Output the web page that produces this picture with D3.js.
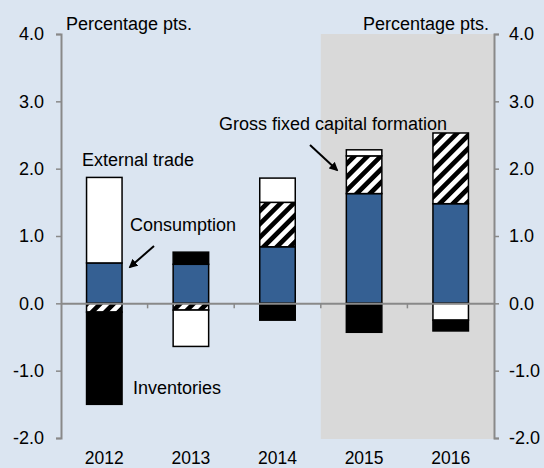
<!DOCTYPE html>
<html>
<head>
<meta charset="utf-8">
<script src="https://cdn.jsdelivr.net/npm/d3@7"></script>
<style>
  body { margin: 0; background: #dbe5f1; }
  text { font-family: "Liberation Sans", Arial, sans-serif; font-size: 18px; fill: #000; }
</style>
</head>
<body>
<div id="chart"></div>
<script>
// contributions to growth, percentage points
const years = ['2012', '2013', '2014', '2015', '2016'];
const consumption = [0.60, 0.58, 0.84, 1.63, 1.48];
const gfcf = [-0.13, -0.10, 0.66, 0.56, 1.05];
const externalTrade = [1.27, -0.54, 0.36, 0.09, -0.25];
const inventories = [-1.37, 0.18, -0.25, -0.43, -0.16];
const yTicks = [-2, -1, 0, 1, 2, 3, 4];
const shadedYears = ['2015', '2016'];

const width = 544;
const height = 468;
const margin = { top: 34, right: 50, bottom: 30, left: 61 };
const innerW = width - margin.left - margin.right;
const innerH = height - margin.top - margin.bottom;

const svg = d3.select('#chart').append('svg')
  .attr('width', width)
  .attr('height', height);

// hatch for fixed capital formation
const defs = svg.append('defs');
const hatch = defs.append('pattern')
  .attr('id', 'hatch')
  .attr('patternUnits', 'userSpaceOnUse')
  .attr('width', 9.4)
  .attr('height', 9.4)
  .attr('patternTransform', 'rotate(45)');
hatch.append('rect').attr('width', 9.4).attr('height', 9.4).attr('fill', '#fff');
hatch.append('rect').attr('width', 4.7).attr('height', 9.4).attr('fill', '#000');

const g = svg.append('g')
  .attr('transform', 'translate(' + margin.left + ',' + margin.top + ')');

const x = d3.scaleBand()
  .domain(years)
  .range([0, innerW])
  .padding(0);

const y = d3.scaleLinear()
  .domain([-2, 4])
  .range([innerH, 0]);

// shaded forecast period
g.append('rect')
  .attr('x', x(shadedYears[0]))
  .attr('y', 0)
  .attr('width', x(shadedYears[shadedYears.length - 1]) + x.bandwidth() - x(shadedYears[0]))
  .attr('height', innerH + 1)
  .attr('fill', '#d9d9d9');

const table = years.map((yr, i) => ({
  year: yr,
  consumption: consumption[i],
  gfcf: gfcf[i],
  externalTrade: externalTrade[i],
  inventories: inventories[i]
}));

const keys = ['consumption', 'gfcf', 'externalTrade', 'inventories'];
const fills = {
  consumption: '#356093',
  gfcf: 'url(#hatch)',
  externalTrade: '#ffffff',
  inventories: '#000000'
};

const series = d3.stack()
  .keys(keys)
  .offset(d3.stackOffsetDiverging)(table);

const barW = x.bandwidth() * 0.41;

g.selectAll('.series')
  .data(series)
  .join('g')
  .attr('class', 'series')
  .attr('fill', d => fills[d.key])
  .selectAll('rect')
  .data(d => d)
  .join('rect')
  .attr('x', d => x(d.data.year) + (x.bandwidth() - barW) / 2)
  .attr('y', d => y(Math.max(d[0], d[1])))
  .attr('width', barW)
  .attr('height', d => Math.abs(y(d[0]) - y(d[1])))
  .attr('stroke', '#000')
  .attr('stroke-width', 1.5);

// zero line with category ticks
const zero = g.append('g')
  .attr('transform', 'translate(0,' + y(0) + ')')
  .call(d3.axisBottom(x).tickValues([]).tickSizeOuter(0));
zero.select('.domain').attr('stroke', '#898989').attr('stroke-width', 2);
zero.selectAll('.sep')
  .data(years.slice(1))
  .join('line')
  .attr('class', 'sep')
  .attr('x1', d => x(d)).attr('x2', d => x(d))
  .attr('y1', 0).attr('y2', 5)
  .attr('stroke', '#898989')
  .attr('stroke-width', 1.5);

// year labels
g.selectAll('.year')
  .data(years)
  .join('text')
  .attr('class', 'year')
  .attr('x', d => x(d) + x.bandwidth() / 2)
  .attr('y', innerH + 26)
  .attr('text-anchor', 'middle')
  .style('font-size', '17.5px')
  .text(d => d);

// y axes
const fmt = d => d3.format('.1f')(d).replace('\u2212', '-');
const leftAxis = g.append('g')
  .call(d3.axisLeft(y).tickValues(yTicks).tickFormat(fmt).tickSize(5).tickSizeOuter(5).tickPadding(12));
const rightAxis = g.append('g')
  .attr('transform', 'translate(' + innerW + ',0)')
  .call(d3.axisRight(y).tickValues(yTicks).tickFormat(fmt).tickSize(5).tickSizeOuter(5).tickPadding(10));

[leftAxis, rightAxis].forEach(a => {
  a.select('.domain').attr('stroke', '#898989').attr('stroke-width', 2);
  a.selectAll('.tick line').attr('stroke', '#898989').attr('stroke-width', 1.5);
  a.selectAll('.tick text')
    .style('font-family', '"Liberation Sans", Arial, sans-serif')
    .style('font-size', '18px')
    .attr('fill', '#000');
});

// unit labels
svg.append('text').attr('x', 66).attr('y', 30).text('Percentage pts.');
svg.append('text').attr('x', 489).attr('y', 30).attr('text-anchor', 'end').text('Percentage pts.');

// annotations
svg.append('text').attr('x', 82).attr('y', 166).text('External trade');
svg.append('text').attr('x', 130).attr('y', 231).text('Consumption');
svg.append('text').attr('x', 133).attr('y', 394).text('Inventories');
svg.append('text').attr('x', 219).attr('y', 130).text('Gross fixed capital formation');

defs.append('marker')
  .attr('id', 'arrow')
  .attr('viewBox', '0 0 10 10')
  .attr('refX', 8).attr('refY', 5)
  .attr('markerWidth', 4.5).attr('markerHeight', 4.5)
  .attr('orient', 'auto')
  .append('path')
  .attr('d', 'M0,0L10,5L0,10z')
  .attr('fill', '#000');

const arrows = [
  { x1: 154, y1: 246, x2: 130, y2: 267 },
  { x1: 310, y1: 145, x2: 337, y2: 170 }
];
svg.selectAll('.arrow')
  .data(arrows)
  .join('line')
  .attr('class', 'arrow')
  .attr('x1', d => d.x1).attr('y1', d => d.y1)
  .attr('x2', d => d.x2).attr('y2', d => d.y2)
  .attr('stroke', '#000')
  .attr('stroke-width', 2)
  .attr('marker-end', 'url(#arrow)');
</script>
</body>
</html>
